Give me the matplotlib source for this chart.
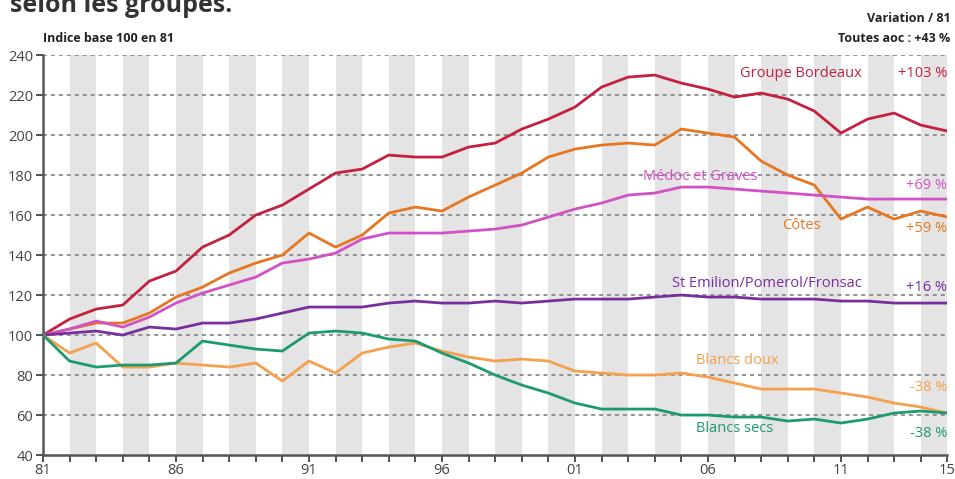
import matplotlib

matplotlib.use("Agg")
import matplotlib.pyplot as plt  # noqa: E402

plt.rcParams["font.family"] = ["Open Sans", "DejaVu Sans"]

years = list(range(1981, 2016))

# indices base 100 en 1981
bordeaux = [100, 108, 113, 115, 127, 132, 144, 150, 160, 165, 173, 181, 183, 190, 189,
            189, 194, 196, 203, 208, 214, 224, 229, 230, 226, 223, 219, 221, 218, 212,
            201, 208, 211, 205, 202]
cotes = [100, 103, 106, 106, 111, 119, 124, 131, 136, 140, 151, 144, 150, 161, 164,
         162, 169, 175, 181, 189, 193, 195, 196, 195, 203, 201, 199, 187, 180, 175,
         158, 164, 158, 162, 159]
medoc = [100, 103, 107, 104, 109, 116, 121, 125, 129, 136, 138, 141, 148, 151, 151,
         151, 152, 153, 155, 159, 163, 166, 170, 171, 174, 174, 173, 172, 171, 170,
         169, 168, 168, 168, 168]
st_emilion = [100, 101, 102, 100, 104, 103, 106, 106, 108, 111, 114, 114, 114, 116, 117,
              116, 116, 117, 116, 117, 118, 118, 118, 119, 120, 119, 119, 118, 118, 118,
              117, 117, 116, 116, 116]
blancs_doux = [100, 91, 96, 84, 84, 86, 85, 84, 86, 77, 87, 81, 91, 94, 96,
               92, 89, 87, 88, 87, 82, 81, 80, 80, 81, 79, 76, 73, 73, 73,
               71, 69, 66, 64, 61]
blancs_secs = [100, 87, 84, 85, 85, 86, 97, 95, 93, 92, 101, 102, 101, 98, 97,
               91, 86, 80, 75, 71, 66, 63, 63, 63, 60, 60, 59, 59, 57, 58,
               56, 58, 61, 62, 61]

series = [
    ("Groupe Bordeaux", "+103 %", bordeaux, "#c4213f"),
    ("Côtes", "+59 %", cotes, "#e8761e"),
    ("Médoc et Graves", "+69 %", medoc, "#d251c4"),
    ("St Emilion/Pomerol/Fronsac", "+16 %", st_emilion, "#7a2e9e"),
    ("Blancs doux", "-38 %", blancs_doux, "#f5a04c"),
    ("Blancs secs", "-38 %", blancs_secs, "#1c9a72"),
]

tick_years = [1981, 1986, 1991, 1996, 2001, 2006, 2011, 2015]
tick_labels = ["81", "86", "91", "96", "01", "06", "11", "15"]

# position des étiquettes (année centrale, valeur) et des variations (valeur)
label_pos = {
    "Groupe Bordeaux": (2009.5, 231),
    "Médoc et Graves": (2005.7, 179.5),
    "Côtes": (2009.5, 155),
    "St Emilion/Pomerol/Fronsac": (2008.2, 126),
    "Blancs doux": (2007.1, 87.5),
    "Blancs secs": (2007.0, 53.5),
}
pct_pos = {
    "Groupe Bordeaux": 231,
    "Médoc et Graves": 175,
    "Côtes": 153.5,
    "St Emilion/Pomerol/Fronsac": 124,
    "Blancs doux": 74,
    "Blancs secs": 51,
}

fig = plt.figure(figsize=(9.55, 4.79), dpi=100)
ax = fig.add_axes([0.045, 0.050, 0.947, 0.835])

for start in range(1982, 2015, 2):
    ax.axvspan(start, start + 1, color="#e4e4e4", lw=0, zorder=0)

for v in range(60, 241, 20):
    ax.axhline(v, color="#8a8a8a", lw=1.3, ls=(0, (2.2, 2.2)), zorder=1)

for name, pct, values, color in series:
    ax.plot(years, values, color=color, lw=2.0, zorder=3, solid_joinstyle="round")
    lx, ly = label_pos[name]
    ax.text(lx, ly, name, color=color, fontsize=10.5, ha="center", va="center", zorder=4)
    ax.text(2015, pct_pos[name], pct, color=color, fontsize=10.5, ha="right",
            va="center", zorder=4)

ax.set_xlim(1981, 2015)
ax.set_ylim(40, 240)
ax.set_xticks(tick_years)
ax.set_xticklabels(tick_labels)
ax.set_xticks(years, minor=True)
ax.set_yticks(range(40, 241, 20))
ax.tick_params(axis="both", labelsize=10.5, colors="#444444", length=5, width=1.3)
ax.tick_params(axis="x", which="minor", length=5, width=1.3, color="#444444")
ax.tick_params(axis="y", pad=2)
ax.tick_params(axis="x", pad=0.5)

for side in ("top", "right"):
    ax.spines[side].set_visible(False)
for side in ("left", "bottom"):
    ax.spines[side].set_color("#555555")
    ax.spines[side].set_linewidth(1.8)

fig.text(0.010, 1 - 12 / 479, "selon les groupes.", fontsize=18, fontweight="bold",
         color="#333333", ha="left", va="baseline")
fig.text(0.045, 1 - 38 / 479, "Indice base 100 en 81", fontsize=9, fontweight="bold",
         color="#222222", ha="left", va="center")
fig.text(0.995, 1 - 18 / 479, "Variation / 81", fontsize=9, fontweight="bold",
         color="#222222", ha="right", va="center")
fig.text(0.995, 1 - 38 / 479, "Toutes aoc : +43 %", fontsize=9, fontweight="bold",
         color="#222222", ha="right", va="center")

fig.savefig("out.png", dpi=100)
